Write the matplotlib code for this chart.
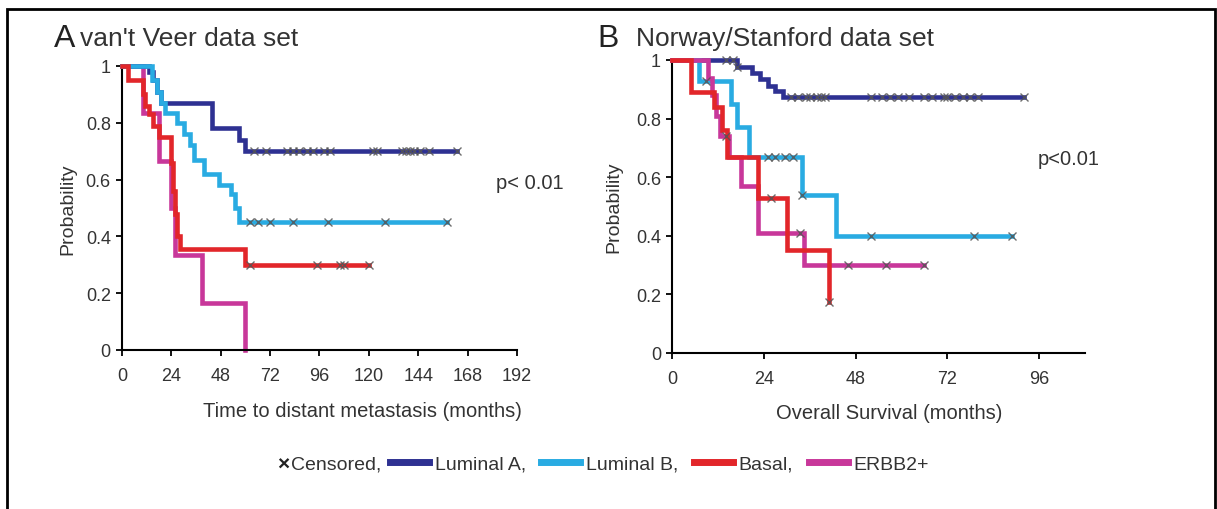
import matplotlib.pyplot as plt
import numpy as np
from matplotlib.lines import Line2D

plt.rcParams['font.family'] = ['Liberation Sans', 'DejaVu Sans']

groups = ['Luminal A', 'Luminal B', 'Basal', 'ERBB2+']
colors = ['#2e3192', '#29abe2', '#e2262a', '#c8379a']

yticks = [0, 0.2, 0.4, 0.6, 0.8, 1.0]
ytick_labels = ['0', '0.2', '0.4', '0.6', '0.8', '1']

# panel A, van't Veer: step times, survival, last follow-up, censored times
a_lumA_t = [0, 13, 15, 17, 19, 44, 57, 60]
a_lumA_s = [1.0, 0.98, 0.95, 0.91, 0.87, 0.78, 0.74, 0.70]
a_lumA_end = 163
a_lumA_cens = [64, 70, 80, 83, 86, 90, 93, 98, 101, 122, 124, 136, 138,
               140, 142, 145, 149, 163]

a_lumB_t = [0, 14.5, 17, 19, 21, 27, 30, 33, 35, 40, 47, 53, 55, 57]
a_lumB_s = [1.0, 0.95, 0.91, 0.87, 0.835, 0.80, 0.76, 0.72, 0.67, 0.62,
            0.58, 0.55, 0.50, 0.45]
a_lumB_end = 158
a_lumB_cens = [62, 66, 72, 83, 100, 128, 158]

a_bas_t = [0, 3, 10, 11, 13, 15, 18, 24, 25, 26, 27, 28, 60]
a_bas_s = [1.0, 0.95, 0.90, 0.86, 0.83, 0.79, 0.75, 0.66, 0.56, 0.48,
           0.40, 0.355, 0.30]
a_bas_end = 120
a_bas_cens = [62, 95, 106, 108, 120]

a_erb_t = [0, 10, 18, 24, 26, 39, 60]
a_erb_s = [1.0, 0.833, 0.667, 0.5, 0.333, 0.167, 0.0]
a_erb_end = 60
a_erb_cens = []

# panel B, Norway/Stanford
b_lumA_t = [0, 17, 21, 23, 25, 27, 29]
b_lumA_s = [1.0, 0.976, 0.955, 0.935, 0.91, 0.895, 0.875]
b_lumA_end = 92
b_lumA_cens = [14, 16, 17, 31, 33, 35, 36, 38, 39, 40, 52, 55, 57, 59,
               62, 66, 68, 71, 72, 74, 76, 78, 80, 92]

b_lumB_t = [0, 7, 15.5, 17, 20, 34, 43]
b_lumB_s = [1.0, 0.93, 0.85, 0.77, 0.67, 0.54, 0.40]
b_lumB_end = 89
b_lumB_cens = [9, 25, 27, 29.5, 31.5, 34, 52, 79, 89]

b_bas_t = [0, 5, 11, 13, 14.5, 22.5, 30, 41]
b_bas_s = [1.0, 0.89, 0.84, 0.76, 0.67, 0.53, 0.35, 0.175]
b_bas_end = 41
b_bas_cens = [26, 41]

b_erb_t = [0, 9.5, 10.5, 11.5, 12.5, 15, 18, 22.5, 34.5]
b_erb_s = [1.0, 0.94, 0.88, 0.81, 0.74, 0.67, 0.57, 0.41, 0.30]
b_erb_end = 66
b_erb_cens = [14, 33.5, 46, 56, 66]

panel_a = [(a_lumA_t, a_lumA_s, a_lumA_end, a_lumA_cens),
           (a_lumB_t, a_lumB_s, a_lumB_end, a_lumB_cens),
           (a_bas_t, a_bas_s, a_bas_end, a_bas_cens),
           (a_erb_t, a_erb_s, a_erb_end, a_erb_cens)]
panel_b = [(b_lumA_t, b_lumA_s, b_lumA_end, b_lumA_cens),
           (b_lumB_t, b_lumB_s, b_lumB_end, b_lumB_cens),
           (b_bas_t, b_bas_s, b_bas_end, b_bas_cens),
           (b_erb_t, b_erb_s, b_erb_end, b_erb_cens)]


def km_panel(ax, curves, order, xmax, xticks, xlabel, xlabel_pos, ylabel_x):
    for z, i in enumerate(order):
        t, s, end, cens = curves[i]
        tt = list(t) + [end]
        ss = list(s) + [s[-1]]
        ax.step(tt, ss, where='post', color=colors[i], lw=3.3,
                solid_joinstyle='miter', clip_on=False, zorder=2 + z)
        if cens:
            idx = np.searchsorted(t, cens, side='right') - 1
            ax.plot(cens, np.array(s)[idx], ls='none', marker='x',
                    ms=5.5, mew=1.0, color='#555555', alpha=0.85,
                    clip_on=False, zorder=10)
    ax.set_xlim(0, xmax)
    ax.set_ylim(0, 1)
    ax.set_xticks(xticks)
    ax.set_yticks(yticks)
    ax.set_yticklabels(ytick_labels)
    for side in ['top', 'right']:
        ax.spines[side].set_visible(False)
    for side in ['left', 'bottom']:
        ax.spines[side].set_linewidth(1.5)
    ax.tick_params(direction='out', length=4, width=1.3,
                   labelsize=13, labelcolor='#333333')
    ax.tick_params(axis='x', pad=8)
    ax.tick_params(axis='y', pad=4)
    ax.set_ylabel('Probability', fontsize=14, color='#333333')
    ax.yaxis.set_label_coords(ylabel_x, 0.5)
    ax.set_xlabel(xlabel, fontsize=14.5, color='#333333')
    ax.xaxis.set_label_coords(*xlabel_pos)


fig = plt.figure(figsize=(12.17, 5.10), dpi=100)

ax_a = fig.add_axes([0.1002, 0.3118, 0.3246, 0.5569])
km_panel(ax_a, panel_a, [3, 0, 1, 2], 192, np.arange(0, 193, 24),
         'Time to distant metastasis (months)', (0.61, -0.18), -0.115)
ax_a.text(182, 0.59, 'p< 0.01', fontsize=14.5, color='#333333', va='center')

ax_b = fig.add_axes([0.5522, 0.3059, 0.3394, 0.5745])
km_panel(ax_b, panel_b, [0, 1, 3, 2], 108, np.arange(0, 97, 24),
         'Overall Survival (months)', (0.525, -0.17), -0.12)
ax_b.text(95.5, 0.665, 'p<0.01', fontsize=14.5, color='#333333', va='center')

# panel titles
fig.text(0.044, 0.908, 'A', fontsize=23, color='#222222')
fig.text(0.066, 0.910, "van't Veer data set", fontsize=19, color='#333333')
fig.text(0.491, 0.908, 'B', fontsize=23, color='#222222')
fig.text(0.523, 0.910, 'Norway/Stanford data set', fontsize=19, color='#333333')

# legend: censored mark as text, groups as legend entries
leg_y = 0.088
fig.text(277 / 1217, leg_y, '\u00d7', fontsize=15, fontweight='bold',
         color='#222222', va='center')
fig.text(291 / 1217, leg_y, 'Censored,', fontsize=14, color='#333333',
         va='center')
handles = [Line2D([], [], color=c, lw=5) for c in colors]
labels = ['Luminal A,', 'Luminal B,', 'Basal,', 'ERBB2+']
leg = fig.legend(handles, labels, loc='center left',
                 bbox_to_anchor=(390 / 1217, leg_y), ncol=4, frameon=False,
                 fontsize=14, handlelength=2.0, handletextpad=0.3,
                 columnspacing=0.8, borderpad=0, borderaxespad=0)
for txt in leg.get_texts():
    txt.set_color('#333333')

# frame around the figure
fig.add_artist(plt.Rectangle((7 / 1217, -0.05), 1208 / 1217, 1 - 10 / 510 + 0.05,
                             transform=fig.transFigure, fill=False,
                             edgecolor='black', lw=2))

fig.savefig('out.png', dpi=100)
